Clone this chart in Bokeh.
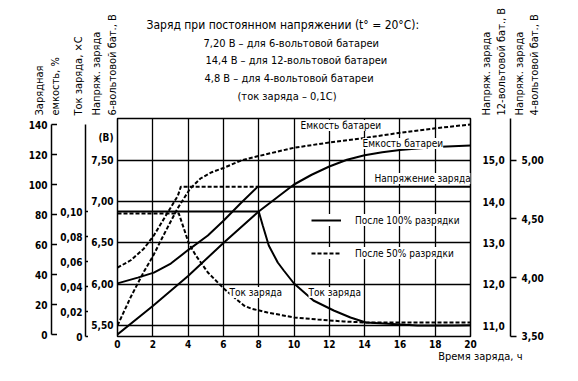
import math
from bokeh.plotting import figure
from bokeh.layouts import row, column
from bokeh.models import (Range1d, LinearAxis, FixedTicker, CustomJSTickFormatter,
                          Label, Legend, LegendItem)
from bokeh.embed import file_html
from bokeh.resources import INLINE

# ---------------- data ----------------
hours_v100 = [0, 1.15, 2.06, 3.02, 3.98, 5.12, 6.02, 6.98, 7.95, 20]
volt_v100 = [6.01, 6.08, 6.14, 6.25, 6.41, 6.59, 6.77, 6.98, 7.18, 7.18]

hours_v50 = [0, 0.75, 1.49, 2.06, 2.74, 3.42, 3.59, 8.0]
volt_v50 = [6.20, 6.29, 6.43, 6.59, 6.83, 7.07, 7.18, 7.18]

hours_c100 = [0, 2, 4, 6, 8, 9, 10, 11, 12, 13, 14, 15, 16, 17, 18, 19, 20]
cap_c100 = [0, 19, 39, 61, 82, 91, 100, 106.5, 112, 116.5, 119.5, 121.5, 123, 124, 125, 125.5, 126]

hours_c50 = [0, 0.75, 1.5, 2, 2.6, 3.4, 4.1, 4.7, 5.3, 6, 7, 8, 10, 12, 14, 16, 18, 20]
cap_c50 = [6, 25, 42, 52, 66, 84, 97, 104, 108, 111, 116, 119, 124.5, 128, 131, 134.5, 137.5, 140]

hours_i100 = [0, 8, 8.23, 8.57, 9.08, 9.42, 10, 11.1, 12.25, 13.2, 14.07, 15.1, 17, 19, 20]
cur_i100 = [0.1, 0.1, 0.0888, 0.0728, 0.0592, 0.0528, 0.0424, 0.0288, 0.0208, 0.0152,
            0.0112, 0.0104, 0.0088, 0.0088, 0.009]

hours_i50 = [0, 3.47, 3.76, 4.04, 4.44, 5.12, 6.02, 7.16, 7.55, 8.5, 10, 11.35, 12.82, 14.07, 20]
cur_i50 = [0.0985, 0.0985, 0.0864, 0.0744, 0.0648, 0.0512, 0.0384, 0.0248, 0.0224, 0.0192,
           0.0152, 0.0136, 0.012, 0.0112, 0.0112]

x_ticks = [0, 2, 4, 6, 8, 10, 12, 14, 16, 18, 20]
v6_ticks = [5.5, 6.0, 6.5, 7.0, 7.5]
v6_unit_tick = 7.77          # where the "(В)" unit label sits on the 6 V scale
cur_ticks = [0, 0.02, 0.04, 0.06, 0.08, 0.10]
cap_ticks = [0, 20, 40, 60, 80, 100, 120, 140]
v12_ticks = [11.0, 12.0, 13.0, 14.0, 15.0]
v4_ticks = [3.5, 4.0, 4.5, 5.0]

V6_RANGE = (5.368, 8.004)
V12_RANGE = (10.736, 16.008)
V4_RANGE = (3.498, 5.355)
CUR_RANGE = (0.0, 0.1744)
CAP_RANGE = (-1.333, 144.0)

FONT = "DejaVu Sans Condensed"
TICK_SIZE = "10px"
TOP, FRAME_H, BOT = 2, 218, 15
PANEL_H = TOP + FRAME_H + BOT


def bare(width, height, y_range, x_range=None, left=0, right=0, top=TOP, bottom=BOT):
    f = figure(width=width, height=height, x_range=x_range or Range1d(0, 1), y_range=y_range,
               x_axis_type=None, y_axis_type=None, output_backend="svg", toolbar_location=None,
               min_border_left=left, min_border_right=right, min_border_top=top,
               min_border_bottom=bottom)
    f.outline_line_color = None
    f.background_fill_color = "white"
    f.border_fill_color = "white"
    return f


def style_axis(ax):
    ax.major_label_text_font = FONT
    ax.major_label_text_font_size = TICK_SIZE
    ax.major_label_text_font_style = "bold"
    ax.major_label_text_color = "black"
    ax.minor_tick_line_color = None
    ax.axis_line_color = "black"
    ax.axis_line_width = 1.5
    ax.major_tick_line_color = "black"
    ax.major_tick_line_width = 1.5


# ---------------- capacity axis panel ----------------
f_cap = bare(57, PANEL_H, Range1d(*CAP_RANGE), left=51)
ax_cap = LinearAxis(ticker=FixedTicker(ticks=cap_ticks),
                    formatter=CustomJSTickFormatter(code="return tick.toFixed(0)"))
style_axis(ax_cap)
ax_cap.major_tick_out = 0
ax_cap.major_tick_in = 6
ax_cap.major_label_standoff = 4
ax_cap.bounds = (0, 140)
f_cap.add_layout(ax_cap, "left")

# ---------------- current axis panel ----------------
f_cur = bare(31, PANEL_H, Range1d(*CUR_RANGE), left=26)
ax_cur = LinearAxis(ticker=FixedTicker(ticks=cur_ticks),
                    formatter=CustomJSTickFormatter(
                        code="return tick == 0 ? '0' : tick.toFixed(2).replace('.', ',')"))
style_axis(ax_cur)
ax_cur.major_tick_out = 0
ax_cur.major_tick_in = 6
ax_cur.major_label_standoff = 3
ax_cur.bounds = (0, 0.17)
f_cur.add_layout(ax_cur, "left")

# ---------------- main chart ----------------
p = figure(width=419, height=PANEL_H, x_range=Range1d(0, 20), y_range=Range1d(*V6_RANGE),
           output_backend="svg", toolbar_location=None,
           min_border_left=29, min_border_right=37, min_border_top=TOP, min_border_bottom=BOT)
p.extra_y_ranges = {"cur": Range1d(*CUR_RANGE), "cap": Range1d(*CAP_RANGE),
                    "v12": Range1d(*V12_RANGE)}
p.outline_line_color = "black"
p.outline_line_width = 1.5
p.background_fill_color = "white"
p.border_fill_color = "white"

xa = p.xaxis[0]
style_axis(xa)
xa.ticker = FixedTicker(ticks=x_ticks)
xa.major_tick_out = 0
xa.major_tick_in = 0
xa.major_label_standoff = 3
xa.axis_line_color = None

ya = p.yaxis[0]
style_axis(ya)
ya.ticker = FixedTicker(ticks=v6_ticks + [v6_unit_tick])
ya.formatter = CustomJSTickFormatter(
    code="if (tick > 7.6) { return '(В)' } return tick.toFixed(2).replace('.', ',')")
ya.major_tick_out = 0
ya.major_tick_in = 0
ya.major_label_standoff = 4
ya.axis_line_color = None

a12 = LinearAxis(y_range_name="v12", ticker=FixedTicker(ticks=v12_ticks),
                 formatter=CustomJSTickFormatter(code="return tick.toFixed(1).replace('.', ',')"))
style_axis(a12)
a12.axis_line_color = None
a12.major_tick_out = 0
a12.major_tick_in = 0
a12.major_label_standoff = 12
p.add_layout(a12, "right")

p.xgrid[0].ticker = FixedTicker(ticks=x_ticks)
p.ygrid[0].ticker = FixedTicker(ticks=v6_ticks)
for g in (p.xgrid[0], p.ygrid[0]):
    g.grid_line_color = "black"
    g.grid_line_width = 1.3
    g.grid_line_alpha = 1.0

LW = 2.0
DASH = "4 2"
r_c50 = p.line(hours_c50, cap_c50, y_range_name="cap", line_color="black", line_width=LW, line_dash=DASH)
r_i50 = p.line(hours_i50, cur_i50, y_range_name="cur", line_color="black", line_width=LW, line_dash=DASH)
r_v50 = p.line(hours_v50, volt_v50, line_color="black", line_width=LW, line_dash=DASH)
r_c100 = p.line(hours_c100, cap_c100, y_range_name="cap", line_color="black", line_width=LW)
r_i100 = p.line(hours_i100, cur_i100, y_range_name="cur", line_color="black", line_width=LW)
r_v100 = p.line(hours_v100, volt_v100, line_color="black", line_width=LW)


def make_legend(label, rend, loc):
    lg = Legend(items=[LegendItem(label=label, renderers=[rend])], location=loc,
                background_fill_color="white", background_fill_alpha=1.0,
                border_line_color=None, padding=2, margin=0, spacing=0,
                glyph_width=30, glyph_height=12, label_height=12, label_standoff=14,
                label_text_font=FONT, label_text_font_size="10px", label_text_color="black")
    p.add_layout(lg)


make_legend("После 100% разрядки", r_v100, (194, 110))
make_legend("После 50% разрядки", r_v50, (194, 77))


def hx(px):
    return (px - 117.0) / 17.65


def vy(py):
    return 7.0 - (py - 201.0) / 82.7


def in_plot_text(px, py, s):
    p.add_layout(Label(x=hx(px), y=vy(py), text=s, text_font=FONT, text_font_size="10px",
                       text_align="left", text_baseline="middle", text_color="black",
                       background_fill_color="white", background_fill_alpha=1.0))


in_plot_text(300, 125, "Емкость батареи")
in_plot_text(362, 143, "Емкость батареи")
in_plot_text(374, 178, "Напряжение заряда")
in_plot_text(229, 292, "Ток заряда")
in_plot_text(308, 292, "Ток заряда")

# ---------------- 4 V axis panel ----------------
f_v4 = bare(55, PANEL_H, Range1d(*V4_RANGE), right=52)
ax_v4 = LinearAxis(ticker=FixedTicker(ticks=v4_ticks),
                   formatter=CustomJSTickFormatter(code="return tick.toFixed(2).replace('.', ',')"))
style_axis(ax_v4)
ax_v4.major_tick_out = 6
ax_v4.major_tick_in = 0
ax_v4.major_label_standoff = 5
f_v4.add_layout(ax_v4, "right")

# ---------------- header (title + rotated axis titles) ----------------
HEAD_H = 116
head = bare(562, HEAD_H, Range1d(HEAD_H, 0), x_range=Range1d(0, 562), top=0, bottom=0)


def htext(fig, x, y, s, size="11px", align="left", baseline="middle", angle=0.0):
    fig.add_layout(Label(x=x, y=y, text=s, text_font=FONT, text_font_size=size,
                         text_align=align, text_baseline=baseline, angle=angle,
                         text_color="black"))


htext(head, 146, 24, "Заряд при постоянном напряжении (t° = 20°C):", size="12px")
htext(head, 203, 43, "7,20 В – для 6-вольтовой батареи", size="11px")
htext(head, 205, 60, "14,4 В – для 12-вольтовой батареи", size="11px")
htext(head, 204, 78, "4,8 В – для 4-вольтовой батареи", size="11px")
htext(head, 237, 96, "(ток заряда – 0,1С)", size="11px")

R = math.pi / 2
for xx, s in [(39, "Зарядная"), (55, "емкость, %"), (78, "Ток заряда, ×С"),
              (96, "Напряж. заряда"), (112, "6-вольтовой бат., В"),
              (486, "Напряж. заряда"), (501, "12-вольтовой бат., В"),
              (519, "Напряж. заряда"), (534, "4-вольтовой бат., В")]:
    htext(head, xx, 115, s, angle=R)

# ---------------- footer ----------------
FOOT_H = 365 - HEAD_H - PANEL_H
foot = bare(562, FOOT_H, Range1d(FOOT_H, 0), x_range=Range1d(0, 562), top=0, bottom=0)
htext(foot, 522, 5, "Время заряда, ч", align="right")

layout = column(head, row(f_cap, f_cur, p, f_v4, spacing=0), foot, spacing=0)
open("out.html", "w").write(file_html(layout, INLINE))
